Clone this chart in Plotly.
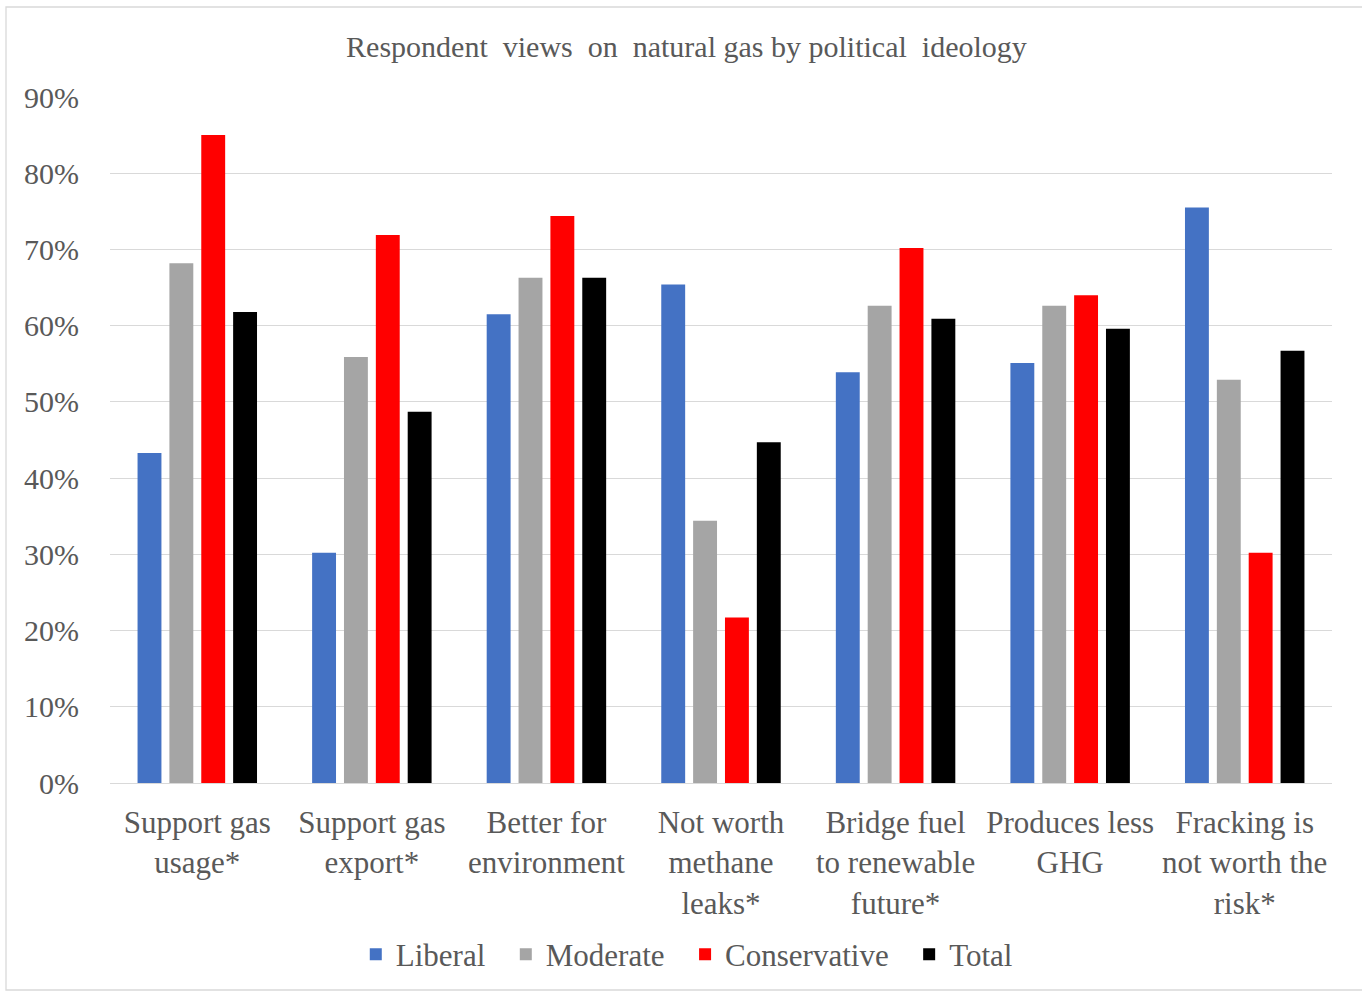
import plotly.graph_objects as go

categories = ["Support gas<br>usage*", "Support gas<br>export*", "Better for<br>environment",
              "Not worth<br>methane<br>leaks*", "Bridge fuel<br>to renewable<br>future*",
              "Produces less<br>GHG", "Fracking is<br>not worth the<br>risk*"]
liberal = [43.3, 30.2, 61.5, 65.4, 53.9, 55.1, 75.5]
moderate = [68.2, 55.9, 66.3, 34.4, 62.6, 62.6, 52.9]
conservative = [85.0, 71.9, 74.4, 21.7, 70.2, 64.0, 30.2]
total = [61.8, 48.7, 66.3, 44.7, 60.9, 59.6, 56.7]

series = [("Liberal", liberal, "#4472C4"), ("Moderate", moderate, "#A5A5A5"),
          ("Conservative", conservative, "#FF0000"), ("Total", total, "#000000")]

font_family = "Liberation Serif, Times New Roman, serif"
text_color = "#595959"

fig = go.Figure()
for i, (name, vals, color) in enumerate(series):
    label = name + ("  " if i < len(series) - 1 else "")
    fig.add_trace(go.Bar(x=categories, y=[v / 100 for v in vals], name=label,
                         marker=dict(color=color, line=dict(width=0))))

fig.update_layout(
    width=1362, height=993,
    margin=dict(l=110, r=30, t=97, b=210),
    paper_bgcolor="white", plot_bgcolor="white",
    font=dict(family=font_family, color=text_color, size=30),
    title=dict(text="Respondent  views  on  natural gas by political  ideology",
               x=0.504, xanchor="center", y=0.953, yanchor="middle",
               font=dict(size=30, color=text_color, family=font_family)),
    barmode="group", bargap=0.27, bargroupgap=0.25,
    showlegend=True,
    legend=dict(orientation="h", x=0.472, xanchor="center", y=-0.25, yanchor="middle",
                font=dict(size=31, color=text_color, family=font_family),
                traceorder="normal", itemwidth=30),
    xaxis=dict(showgrid=False, showline=False, ticks="", tickfont=dict(size=31),
               ticklabelstandoff=18),
    yaxis=dict(range=[0, 0.9], dtick=0.1, tickformat=".0%", showgrid=True,
               gridcolor="#D9D9D9", gridwidth=1.3, zeroline=True, zerolinecolor="#D9D9D9",
               zerolinewidth=1.3, showline=False, ticks="", tickfont=dict(size=30),
               ticklabelstandoff=30),
    shapes=[dict(type="rect", xref="paper", yref="paper",
                 x0=-104 / 1222, x1=1330 / 1222, y0=-207 / 686, y1=(686 + 90) / 686,
                 line=dict(color="#D9D9D9", width=1.3), fillcolor="rgba(0,0,0,0)", layer="below")],
)

fig.write_html("out.html")
